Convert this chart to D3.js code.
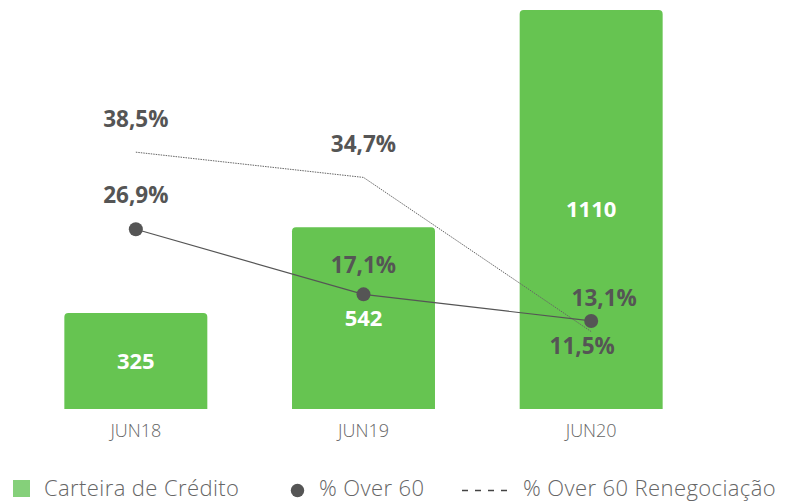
<!DOCTYPE html>
<html>
<head>
<meta charset="utf-8">
<script src="https://cdn.jsdelivr.net/npm/d3@7"></script>
<style>
  html, body { margin: 0; padding: 0; background: #fff; }
  svg { display: block; font-family: "Open Sans", Lato, sans-serif; }
</style>
</head>
<body>
<svg id="chart" width="794" height="502"></svg>
<script>
// ---- data ----
const categories = ["JUN18", "JUN19", "JUN20"];
const carteira = [325, 542, 1110];
const over60 = [26.9, 17.1, 13.1];
const over60Reneg = [38.5, 34.7, 11.5];
const legendLabels = ["Carteira de Crédito", "% Over 60", "% Over 60 Renegociação"];

// label placement (layout only): [dx, dy] relative to point
const over60LabelOffset = [[0, -26], [0, -21.5], [13, -15]];
const renegLabelOffset = [[0, -25], [0, -25], [-9, 22]];

const fmtPct = v => d3.format(".1f")(v).replace(".", ",") + "%";

const svg = d3.select("#chart");
const baseline = 409;

const x = d3.scaleBand().domain(categories).range([22, 705]).paddingInner(0.372).paddingOuter(0.186);
const yBar = d3.scaleLinear().domain([83, 1090]).range([baseline, 10]).clamp(true);
const yLine = d3.scaleLinear().domain([0, 61.4]).range([408, 0]);

const green = "#66c451";
const dark = "#555555";

// bars
const bars = svg.append("g");
bars.selectAll("path").data(carteira).join("path")
  .attr("fill", green)
  .attr("d", (d, i) => {
    const x0 = x(categories[i]), w = x.bandwidth(), y0 = yBar(d), r = 4;
    const p = d3.path();
    p.moveTo(x0, baseline);
    p.lineTo(x0, y0 + r);
    p.quadraticCurveTo(x0, y0, x0 + r, y0);
    p.lineTo(x0 + w - r, y0);
    p.quadraticCurveTo(x0 + w, y0, x0 + w, y0 + r);
    p.lineTo(x0 + w, baseline);
    p.closePath();
    return p.toString();
  });

bars.selectAll("text").data(carteira).join("text")
  .attr("x", (d, i) => x(categories[i]) + x.bandwidth() / 2)
  .attr("y", d => (yBar(d) + baseline) / 2)
  .attr("dy", "0.36em")
  .attr("text-anchor", "middle")
  .attr("fill", "#fff")
  .attr("font-weight", 700)
  .attr("font-size", 22)
  .text(d => d);

const cx = i => x(categories[i]) + x.bandwidth() / 2;

// dotted renegociação line
svg.append("path")
  .datum(over60Reneg)
  .attr("fill", "none")
  .attr("stroke", "#666")
  .attr("stroke-width", 1)
  .attr("stroke-dasharray", "1.5,1")
  .attr("d", d3.line().x((d, i) => cx(i)).y(d => yLine(d)));

// solid over60 line
svg.append("path")
  .datum(over60)
  .attr("fill", "none")
  .attr("stroke", dark)
  .attr("stroke-width", 1.2)
  .attr("d", d3.line().x((d, i) => cx(i)).y(d => yLine(d)));

svg.append("g").selectAll("circle").data(over60).join("circle")
  .attr("cx", (d, i) => cx(i))
  .attr("cy", d => yLine(d))
  .attr("r", 7)
  .attr("fill", dark);

// labels
const labelStyle = sel => sel
  .attr("text-anchor", "middle")
  .attr("fill", dark)
  .attr("font-weight", 700)
  .attr("font-size", 22.5);

svg.append("g").selectAll("text").data(over60).join("text")
  .call(labelStyle)
  .attr("x", (d, i) => cx(i) + over60LabelOffset[i][0])
  .attr("y", (d, i) => yLine(d) + over60LabelOffset[i][1])
  .text(fmtPct);

svg.append("g").selectAll("text").data(over60Reneg).join("text")
  .call(labelStyle)
  .attr("x", (d, i) => cx(i) + renegLabelOffset[i][0])
  .attr("y", (d, i) => yLine(d) + renegLabelOffset[i][1])
  .text(fmtPct);

// x axis
const xAxis = svg.append("g")
  .attr("transform", `translate(0,${baseline})`)
  .call(d3.axisBottom(x).tickSize(0).tickPadding(15));
xAxis.select(".domain").remove();
xAxis.selectAll("text")
  .attr("font-family", "'Open Sans', sans-serif")
  .attr("font-weight", 300)
  .attr("font-size", 18)
  .attr("fill", "#666")
  .attr("dy", "0.71em");

// legend
const leg = svg.append("g").attr("font-weight", 300).attr("font-size", 22)
  .attr("letter-spacing", 0.4).attr("fill", "#666");
leg.append("rect").attr("x", 13).attr("y", 480).attr("width", 17).attr("height", 17).attr("fill", "#85d07a");
leg.append("text").attr("x", 44).attr("y", 496).text(legendLabels[0]);
leg.append("circle").attr("cx", 297.5).attr("cy", 490.5).attr("r", 6.7).attr("fill", dark);
leg.append("text").attr("x", 319).attr("y", 496).text(legendLabels[1]);
leg.append("line").attr("x1", 462).attr("x2", 509).attr("y1", 490.5).attr("y2", 490.5)
  .attr("stroke", "#444").attr("stroke-width", 1.5).attr("stroke-dasharray", "6,7");
leg.append("text").attr("x", 523).attr("y", 496).text(legendLabels[2]);
</script>
</body>
</html>
